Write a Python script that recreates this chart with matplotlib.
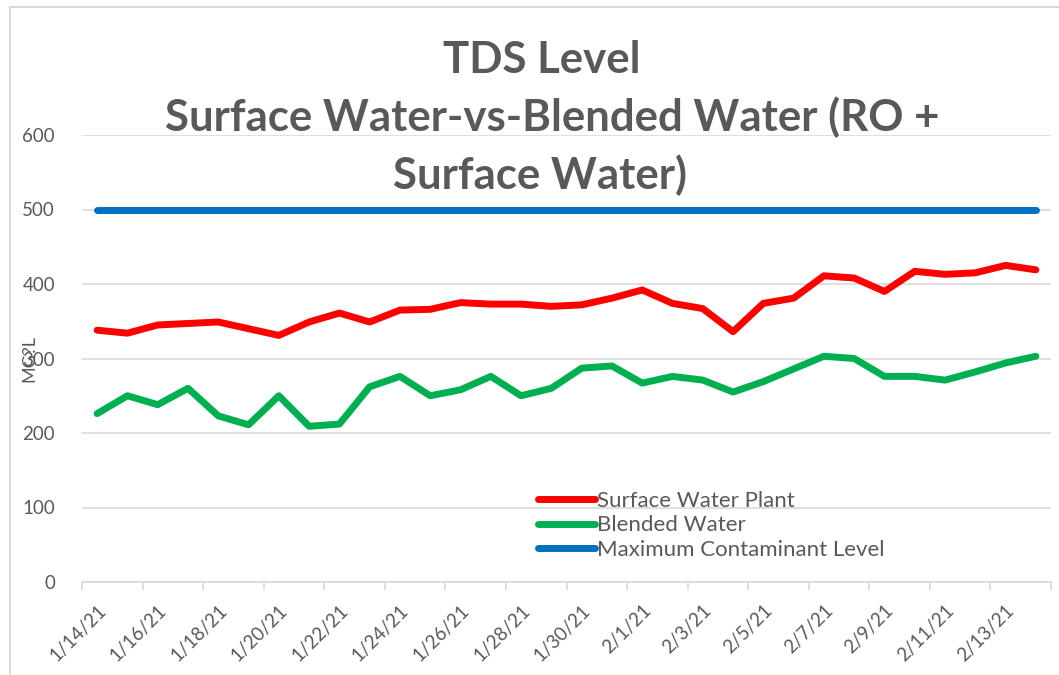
import matplotlib.pyplot as plt
import pandas as pd
from matplotlib.lines import Line2D

# datos (mg/L)
fechas = pd.date_range("2021-01-14", "2021-02-14", freq="D")
etiquetas = [f"{d.month}/{d.day}/21" for d in fechas]
superficie = [338, 334, 345, 347, 349, 340, 331, 349, 361, 349, 365, 366, 375, 373, 373, 370,
              372, 381, 392, 374, 367, 336, 374, 381, 411, 408, 390, 417, 413, 415, 425, 419]
mezcla = [226, 250, 238, 260, 223, 211, 250, 209, 212, 262, 276, 250, 258, 276, 250, 260,
          287, 290, 267, 276, 271, 255, 269, 286, 303, 300, 276, 276, 271, 282, 294, 303]
mcl = [500] * len(fechas)

gris = "#595959"
plt.rcParams['font.family'] = ['Lato', 'DejaVu Sans']

W, H = 1059, 675
fig = plt.figure(figsize=(W / 100, H / 100), dpi=100)
ax = fig.add_axes([82 / W, (H - 582) / H, (1051 - 82) / W, (582 - 135) / H])

x = list(range(len(fechas)))
ax.plot(x, superficie, color="#FF0000", lw=5, solid_capstyle="round", label="Surface Water Plant")
ax.plot(x, mezcla, color="#00B050", lw=5, solid_capstyle="round", label="Blended Water")
ax.plot(x, mcl, color="#0070C0", lw=5, solid_capstyle="round", label="Maximum Contaminant Level")

ax.set_xlim(-0.5, len(fechas) - 0.5)
ax.set_ylim(0, 600)
ax.set_yticks(range(0, 601, 100))
ax.yaxis.grid(True, color="#D9D9D9", lw=1.2)
ax.set_axisbelow(True)
ax.tick_params(axis="y", length=0, pad=19.5, labelsize=13.5, labelcolor=gris)

# etiquetas cada 2 dias, marcas entre categorias
ax.set_xticks(x[::2])
ax.set_xticklabels(etiquetas[::2], rotation=45, ha="right", va="top", rotation_mode="anchor")
ax.tick_params(axis="x", which="major", length=0, pad=14, labelsize=13.5, labelcolor=gris)
ax.set_xticks([i - 0.5 for i in range(0, len(fechas) + 1, 2)], minor=True)
ax.tick_params(axis="x", which="minor", length=6, color="#D9D9D9", width=1.2)

for s in ["top", "right", "left"]:
    ax.spines[s].set_visible(False)
ax.spines["bottom"].set_color("#D9D9D9")
ax.spines["bottom"].set_linewidth(1.2)

fig.text(29 / W, 1 - 359 / H, "MG?L", rotation=90, ha="center", va="center", fontsize=13, color=gris)

fig.text(542 / W, 1 - 60 / H, "TDS Level", ha="center", va="center", fontsize=31.5, fontweight="bold", color=gris)
fig.text(552 / W, 1 - 117 / H, "Surface Water-vs-Blended Water (RO +", ha="center", va="center",
         fontsize=31.5, fontweight="bold", color=gris)
fig.text(540 / W, 1 - 175 / H, "Surface Water)", ha="center", va="center", fontsize=31.5,
         fontweight="bold", color=gris)

leg = ax.legend(loc="upper left", bbox_to_anchor=(538 / W, 1 - 491 / H), bbox_transform=fig.transFigure,
                frameon=False, fontsize=16, handlelength=2.57, handletextpad=0.1, labelspacing=0.2,
                borderpad=0, borderaxespad=0)
for t in leg.get_texts():
    t.set_color(gris)

# borde del area de grafica
fig.add_artist(Line2D([10 / W, 10 / W], [0, 1 - 7 / H], color="#D9D9D9", lw=1.5))
fig.add_artist(Line2D([10 / W, 1], [1 - 7 / H, 1 - 7 / H], color="#D9D9D9", lw=1.5))

fig.savefig("out.png", dpi=100)
